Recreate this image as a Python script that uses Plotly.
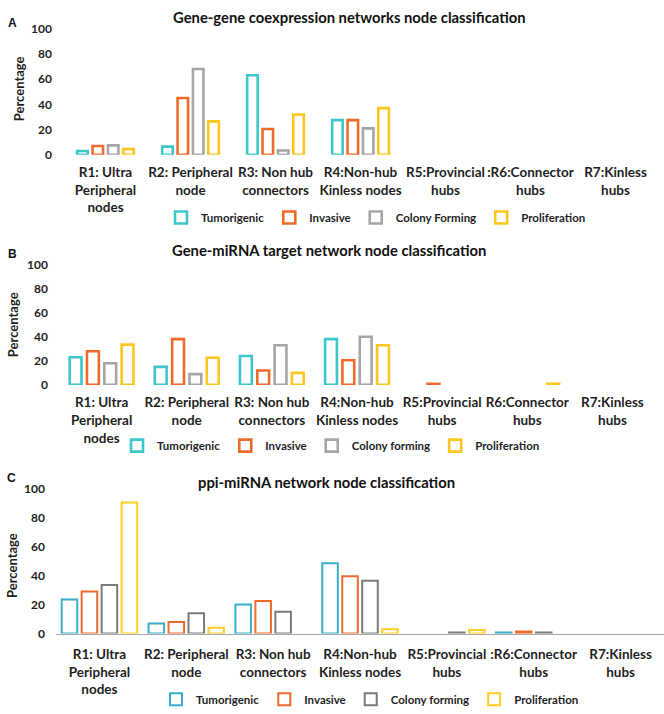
import plotly.graph_objects as go

# ---------------- data ----------------
series_names = ["Tumorigenic", "Invasive", "Colony Forming", "Proliferation"]
series_names_bc = ["Tumorigenic", "Invasive", "Colony forming", "Proliferation"]

cats_a = ["R1: Ultra<br>Peripheral<br>nodes", "R2: Peripheral<br>node", "R3: Non hub<br>connectors",
          "R4:Non-hub<br>Kinless nodes", "R5:Provincial<br>hubs", ":R6:Connector<br>hubs", "R7:Kinless<br>hubs"]
cats_b = ["R1: Ultra<br>Peripheral<br>nodes", "R2: Peripheral<br>node", "R3: Non hub<br>connectors",
          "R4:Non-hub<br>Kinless nodes", "R5:Provincial<br>hubs", "R6:Connector<br>hubs", "R7:Kinless<br>hubs"]
cats_c = ["R1: Ultra<br>Peripheral<br>nodes", "R2: Peripheral<br>node", "R3: Non hub<br>connectors",
          "R4:Non-hub<br>Kinless nodes", "R5:Provincial<br>hubs", ":R6:Connector<br>hubs", "R7:Kinless<br>hubs"]

# Panel A: Gene-gene coexpression networks
a_tumorigenic   = [3, 6.5, 63, 27.5, None, None, None]
a_invasive      = [7, 45, 20.5, 27.5, None, None, None]
a_colony        = [7.5, 68, 3.5, 21, None, None, None]
a_proliferation = [4.5, 26.5, 32, 37, None, None, None]

# Panel B: Gene-miRNA target network
b_tumorigenic   = [23, 15, 24, 38, None, None, None]
b_invasive      = [28, 38, 12, 20.5, 1, None, None]
b_colony        = [18, 9, 33, 40, None, None, None]
b_proliferation = [33.5, 22.5, 10, 33, None, 1, None]

# Panel C: ppi-miRNA network
c_tumorigenic   = [23.5, 7, 20, 48.5, None, 0.8, None]
c_invasive      = [29, 8, 22.5, 39.5, None, 1.5, None]
c_colony        = [33.5, 14, 15, 36.5, 0.8, 0.8, None]
c_proliferation = [90.5, 4, None, 3, 2.5, None, None]

y_ticks = [0, 20, 40, 60, 80, 100]

titles = ["Gene-gene coexpression networks node classification",
          "Gene-miRNA target network node classification",
          "ppi-miRNA network node classification"]

# ---------------- styling ----------------
W, H = 664, 714
FONT = "Lato"
TXT = "#1f1f1f"
colors_ab = ["#3CC8CA", "#EE6B2A", "#A6A6A6", "#FFC61E"]
colors_c = ["#38AFC8", "#EE6B2A", "#7B7B7B", "#FFCE22"]


def px_x(v):
    return v / W


def px_y(v):
    return 1 - v / H


panels = [
    dict(cats=cats_a, vals=[a_tumorigenic, a_invasive, a_colony, a_proliferation], names=series_names,
         colors=colors_ab, lw=2.6, slot=0.181, w=0.1235,
         xdom=(63, 658), ydom=(150, 21), title_xy=(349, 9), letter_xy=(12, 15),
         ptitle_xy=(19, 83), legend_xy=(376, 214), showline=False),
    dict(cats=cats_b, vals=[b_tumorigenic, b_invasive, b_colony, b_proliferation], names=series_names_bc,
         colors=colors_ab, lw=2.6, slot=0.2035, w=0.139,
         xdom=(59, 655), ydom=(385, 262), title_xy=(329, 247), letter_xy=(12, 251),
         ptitle_xy=(13, 324), legend_xy=(331, 447), showline=False),
    dict(cats=cats_c, vals=[c_tumorigenic, c_invasive, c_colony, c_proliferation], names=series_names_bc,
         colors=colors_c, lw=2.0, slot=0.230, w=0.179,
         xdom=(56, 664), ydom=(639, 491), title_xy=(326, 484), letter_xy=(11, 480),
         ptitle_xy=(12, 570), legend_xy=(370, 706), showline=True),
]

fig = go.Figure()
annotations = []
layout_extra = {}

for p_i, p in enumerate(panels):
    suffix = "" if p_i == 0 else str(p_i + 1)
    xa, ya = "x" + suffix, "y" + suffix
    leg = "legend" + suffix
    for s_i, (vals, name, col) in enumerate(zip(p["vals"], p["names"], p["colors"])):
        off = -2 * p["slot"] + s_i * p["slot"] + (p["slot"] - p["w"]) / 2
        fig.add_trace(go.Bar(
            x=p["cats"], y=vals, name=name, xaxis=xa, yaxis=ya, legend=leg,
            width=p["w"], offset=off,
            marker=dict(color="white", line=dict(color=col, width=p["lw"])),
            hoverinfo="skip",
        ))
    layout_extra["xaxis" + suffix] = dict(
        domain=[px_x(p["xdom"][0]), px_x(p["xdom"][1])], anchor=ya,
        type="category", showgrid=False, zeroline=False, ticks="", tickangle=0,
        showline=p["showline"], linecolor="#A8A8A8", linewidth=1.6,
        tickfont=dict(family=FONT, size=13.5, color=TXT, weight="bold"),
        ticklabelstandoff=8, fixedrange=True,
    )
    layout_extra["yaxis" + suffix] = dict(
        domain=[px_y(p["ydom"][0]), px_y(p["ydom"][1])], anchor=xa,
        range=[0, 100], tickvals=y_ticks, showgrid=False, zeroline=False, ticks="",
        showline=False, tickfont=dict(family=FONT, size=12, color=TXT, weight="bold"),
        ticklabelstandoff=10, fixedrange=True,
    )
    layout_extra[leg] = dict(
        orientation="h", x=px_x(p["legend_xy"][0]), y=px_y(p["legend_xy"][1]),
        xanchor="center", yanchor="middle", bgcolor="rgba(0,0,0,0)",
        font=dict(family=FONT, size=11.5, color=TXT, weight="bold"),
        traceorder="normal", itemclick=False, itemdoubleclick=False,
    )
    annotations.append(dict(
        text=titles[p_i], x=px_x(p["title_xy"][0]), y=px_y(p["title_xy"][1]),
        xref="paper", yref="paper", showarrow=False, xanchor="center", yanchor="middle",
        font=dict(family=FONT, size=14.8, color="#111111", weight="bold"),
    ))
    annotations.append(dict(
        text="ABC"[p_i], x=px_x(p["letter_xy"][0]), y=px_y(p["letter_xy"][1]),
        xref="paper", yref="paper", showarrow=False, xanchor="center", yanchor="middle",
        font=dict(family="Liberation Sans", size=12, color="#111111", weight="bold"),
    ))
    annotations.append(dict(
        text="Percentage", x=px_x(p["ptitle_xy"][0]), y=px_y(p["ptitle_xy"][1]),
        xref="paper", yref="paper", showarrow=False, xanchor="center", yanchor="middle",
        textangle=-90, font=dict(family=FONT, size=13, color=TXT, weight="bold"),
    ))

fig.update_layout(
    width=W, height=H, autosize=False,
    margin=dict(l=0, r=0, t=0, b=0),
    paper_bgcolor="white", plot_bgcolor="white",
    barmode="overlay", showlegend=True,
    annotations=annotations,
    **layout_extra,
)

fig.write_html("out.html",
               config={"displayModeBar": False, "staticPlot": True},
               post_script="document.body.style.margin='0';document.body.style.overflow='hidden';")
